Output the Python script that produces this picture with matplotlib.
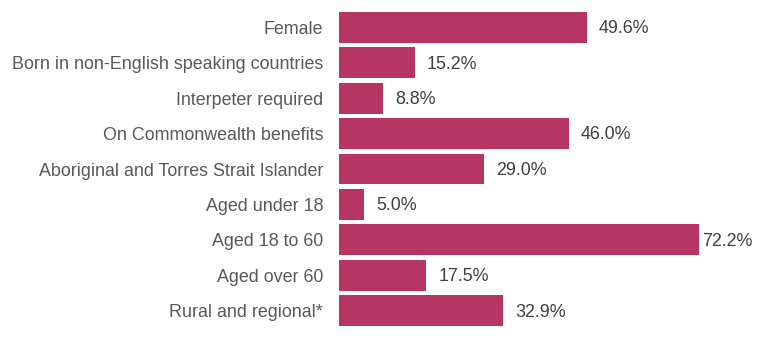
import matplotlib
matplotlib.use('Agg')
import matplotlib.pyplot as plt

categories = ['Female', 'Born in non-English speaking countries', 'Interpeter required',
              'On Commonwealth benefits', 'Aboriginal and Torres Strait Islander',
              'Aged under 18', 'Aged 18 to 60', 'Aged over 60', 'Rural and regional*']
values = [49.6, 15.2, 8.8, 46.0, 29.0, 5.0, 72.2, 17.5, 32.9]

plt.rcParams['font.family'] = ['Liberation Sans', 'DejaVu Sans']

fig = plt.figure(figsize=(7.68, 3.38), dpi=100)
ax = fig.add_axes([339 / 768, 1 - 328.5 / 338, 429 / 768, 319 / 338])
ypos = list(range(len(categories)))
ax.barh(ypos, values, height=0.87, color='#b63563')
ax.set_ylim(len(categories) - 0.5, -0.5)
ax.set_xlim(0, 429 / 4.99)
ax.set_yticks(ypos)
ax.set_yticklabels(categories, fontsize=12.9, color='#595959')
ax.tick_params(axis='y', length=0, pad=11.5)
ax.set_xticks([])
for s in ax.spines.values():
    s.set_visible(False)
vmax = max(values)
for y, v in zip(ypos, values):
    off = 3 if v == vmax else 12
    ax.annotate(f'{v:.1f}%', (v, y), xytext=(off * 0.72, -1), textcoords='offset points',
                va='center', ha='left', fontsize=12.9, color='#404040')

plt.savefig('out.png', dpi=100)
plt.close()
